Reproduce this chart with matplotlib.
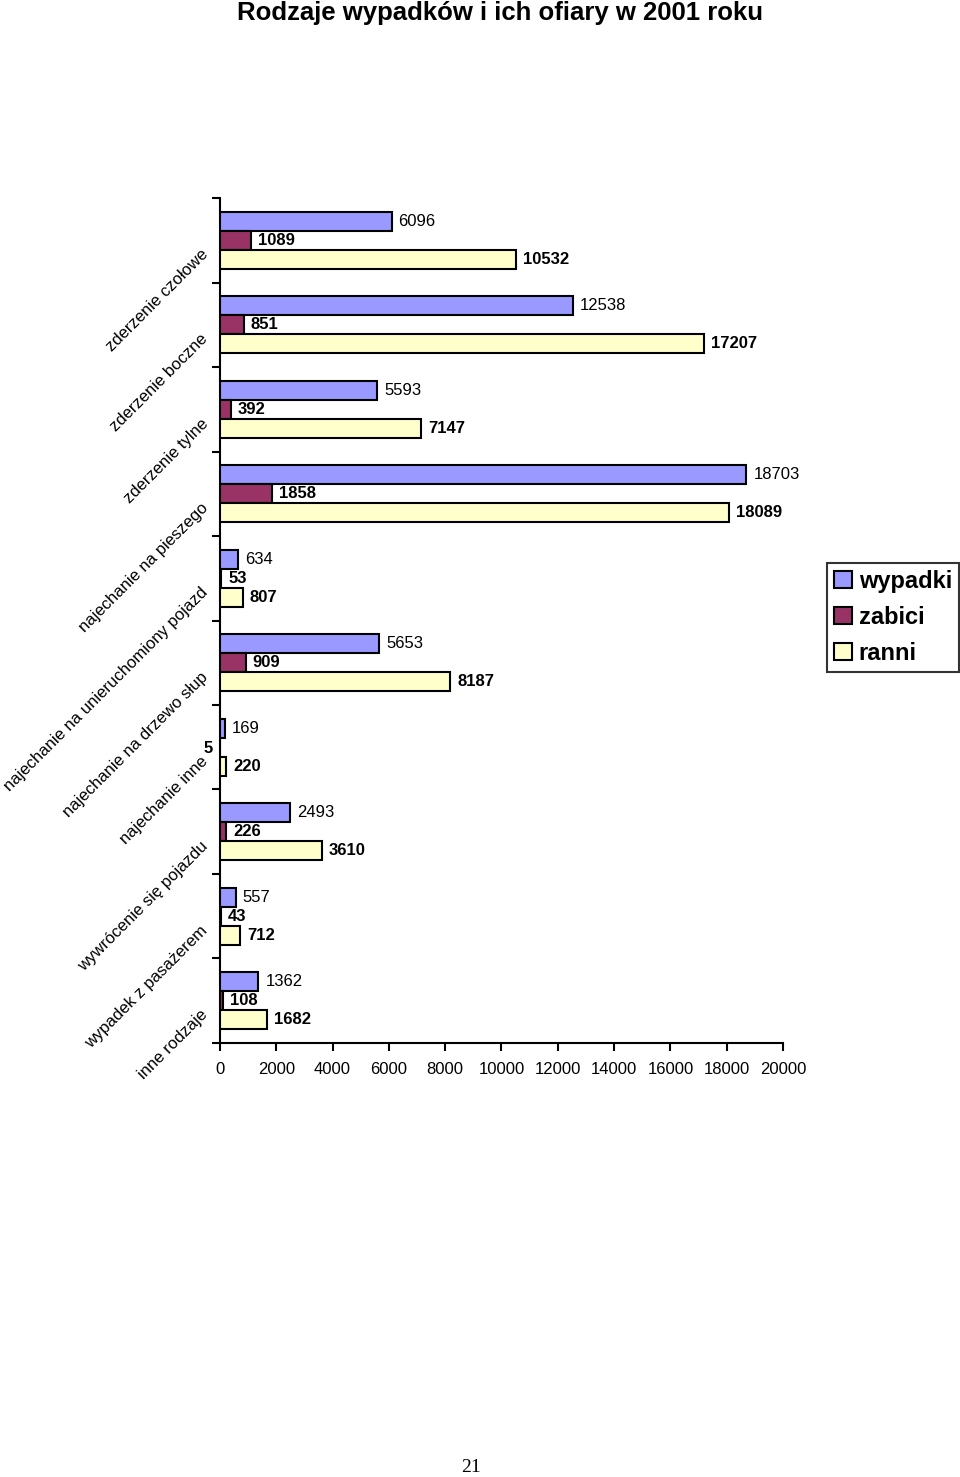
import matplotlib
matplotlib.use("Agg")
import matplotlib.pyplot as plt
import numpy as np

categories = ["zderzenie czołowe", "zderzenie boczne", "zderzenie tylne",
              "najechanie na pieszego", "najechanie na unieruchomiony pojazd",
              "najechanie na drzewo słup", "najechanie inne",
              "wywrócenie się pojazdu", "wypadek z pasażerem", "inne rodzaje"]
wypadki = [6096, 12538, 5593, 18703, 634, 5653, 169, 2493, 557, 1362]
zabici = [1089, 851, 392, 1858, 53, 909, 5, 226, 43, 108]
ranni = [10532, 17207, 7147, 18089, 807, 8187, 220, 3610, 712, 1682]
series_names = ["wypadki", "zabici", "ranni"]
colors = ["#9999FF", "#993366", "#FFFFCC"]
xticks = list(range(0, 20001, 2000))

plt.rcParams['font.family'] = ['Liberation Sans', 'DejaVu Sans']

fig = plt.figure(figsize=(9.6, 14.77), dpi=100)
ax = fig.add_axes([220/960, 434/1477, 563/960, (1043-198)/1477])

n = len(categories)
y = np.arange(n)
h = 0.225
series = [wypadki, zabici, ranni]
offsets = [-h, 0, h]
for s, (vals, name, col, off) in enumerate(zip(series, series_names, colors, offsets)):
    ax.barh(y + off, vals, height=h, color=col, edgecolor='black', linewidth=1.5,
            label=name, zorder=3)
    for i, v in enumerate(vals):
        weight = 'normal' if s == 0 else 'bold'
        if v < 20:
            ax.annotate(str(v), (0, y[i] + off), xytext=(-5.5, -1), textcoords='offset points',
                        ha='right', va='center', fontsize=12, fontweight=weight)
        else:
            ax.annotate(str(v), (v, y[i] + off), xytext=(5, 0), textcoords='offset points',
                        ha='left', va='center', fontsize=12, fontweight=weight)

ax.set_xlim(0, 20000)
ax.set_ylim(n - 0.5, -0.5)
ax.set_xticks(xticks)
ax.set_xticklabels([str(t) for t in xticks], fontsize=12)
ax.set_yticks(np.arange(n + 1) - 0.5)
ax.set_yticklabels([])
# category labels, rotated 45 degrees
for i, cat in enumerate(categories):
    ax.annotate(cat, (0, y[i]), xycoords=ax.get_yaxis_transform(),
                xytext=(-10.4, -8.6), textcoords='offset points',
                rotation=45, ha='right', va='center', rotation_mode='anchor',
                fontsize=12)
ax.tick_params(axis='y', which='major', length=6, width=1.5, direction='out')
ax.tick_params(axis='x', length=6, width=1.5, direction='out', pad=8)
for sp in ['top', 'right']:
    ax.spines[sp].set_visible(False)
for sp in ['left', 'bottom']:
    ax.spines[sp].set_linewidth(1.5)

leg = fig.legend(loc='upper left', bbox_to_anchor=(827/960, 1 - 563/1477),
                 bbox_transform=fig.transFigure, borderaxespad=0,
                 prop={'size': 17, 'weight': 'bold'}, fancybox=False,
                 handlelength=0.75, handleheight=0.75, handletextpad=0.3,
                 labelspacing=0.55, borderpad=0.3, frameon=True)
leg.get_frame().set_edgecolor('black')
leg.get_frame().set_linewidth(1.5)

fig.text(500/960, 1 - 13/1477, "Rodzaje wypadków i ich ofiary w 2001 roku",
         ha='center', va='center', fontsize=18.5, fontweight='bold')
fig.text(471/960, 1 - 1468/1477, "21", ha='center', va='center', fontsize=14,
         family='Liberation Serif')

fig.savefig("out.png", dpi=100)
